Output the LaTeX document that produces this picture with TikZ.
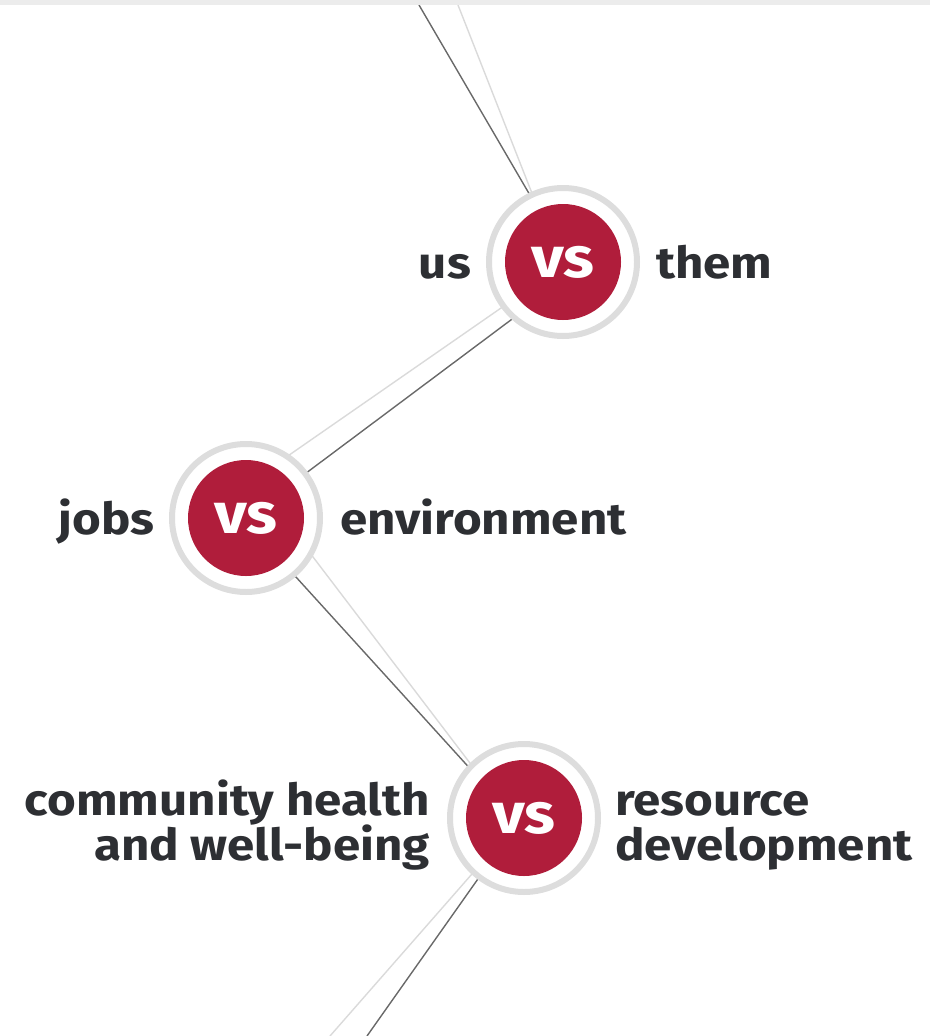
\documentclass[tikz,border=0pt]{standalone}
\usepackage{fontspec}
\setmainfont{Fira Sans}[FakeStretch=1.12]
\usetikzlibrary{positioning,backgrounds}
\definecolor{vsred}{RGB}{176,29,59}
\definecolor{ringgray}{RGB}{221,221,221}
\definecolor{txtgray}{RGB}{45,47,51}
\definecolor{darkline}{RGB}{105,105,105}
\definecolor{lightline}{RGB}{218,218,218}
\definecolor{bandgray}{RGB}{236,236,236}

\begin{document}
\begin{tikzpicture}[x=1pt,y=-1pt,
        vs/.style={circle,draw=ringgray,line width=6pt,fill=white,minimum size=148pt,inner sep=0pt,
            path picture={\fill[vsred] (path picture bounding box.center) circle (58pt);},
            text=white,font=\fontsize{57}{57}\selectfont\bfseries},
        side/.style={text=txtgray,font=\fontsize{44}{45}\selectfont\bfseries,inner sep=0pt},
        dk/.style={darkline,line width=1.4pt},
        lt/.style={lightline,line width=1.4pt}]
    \useasboundingbox (0,0) rectangle (930,1036);
    \fill[bandgray] (0,0) rectangle (930,5);
    % the three pairs
    \node[vs] (usvs) at (563,262) {vs};
    \node[side,anchor=base east] (us) at ([xshift=-92pt,yshift=-16pt]usvs.center) {us};
    \node[side,anchor=base west] (them) at ([xshift=93pt,yshift=-16pt]usvs.center) {them};
    \node[vs] (jobsvs) at (246,518) {vs};
    \node[side,anchor=base east] (jobs) at ([xshift=-91pt,yshift=-16pt]jobsvs.center) {jobs};
    \node[side,anchor=base west] (env) at ([xshift=94pt,yshift=-16pt]jobsvs.center) {environment};
    \node[vs] (healthvs) at (524,818) {vs};
    \node[side,anchor=base east] (health) at ([xshift=-94pt,yshift=3pt]healthvs.center) {community health};
    \node[side,anchor=base east] (wellbeing) at ([xshift=-94pt,yshift=-42pt]healthvs.center) {and well-being};
    \node[side,anchor=base west] (resource) at ([xshift=91pt,yshift=3pt]healthvs.center) {resource};
    \node[side,anchor=base west] (devel) at ([xshift=91pt,yshift=-42pt]healthvs.center) {development};
    % zigzag threads behind the circles
    \begin{scope}[on background layer]
        \draw[dk] (419,5) -- ([xshift=6pt]usvs.center);
        \draw[lt] (458,5) -- ([xshift=-4pt]usvs.center);
        \draw[dk] ([yshift=-19pt]usvs.center) -- (jobsvs.center);
        \draw[lt] ([yshift=-3pt]usvs.center) -- ([yshift=33pt]jobsvs.center);
        \draw[dk] ([yshift=-4pt]jobsvs.center) -- ([yshift=-10pt]healthvs.center);
        \draw[lt] ([yshift=49pt]jobsvs.center) -- ([yshift=-16pt]healthvs.center);
        \draw[dk] ([xshift=-3pt]healthvs.center) -- (367,1036);
        \draw[lt] ([xshift=-3pt]healthvs.center) -- (330,1036);
    \end{scope}
\end{tikzpicture}
\end{document}
